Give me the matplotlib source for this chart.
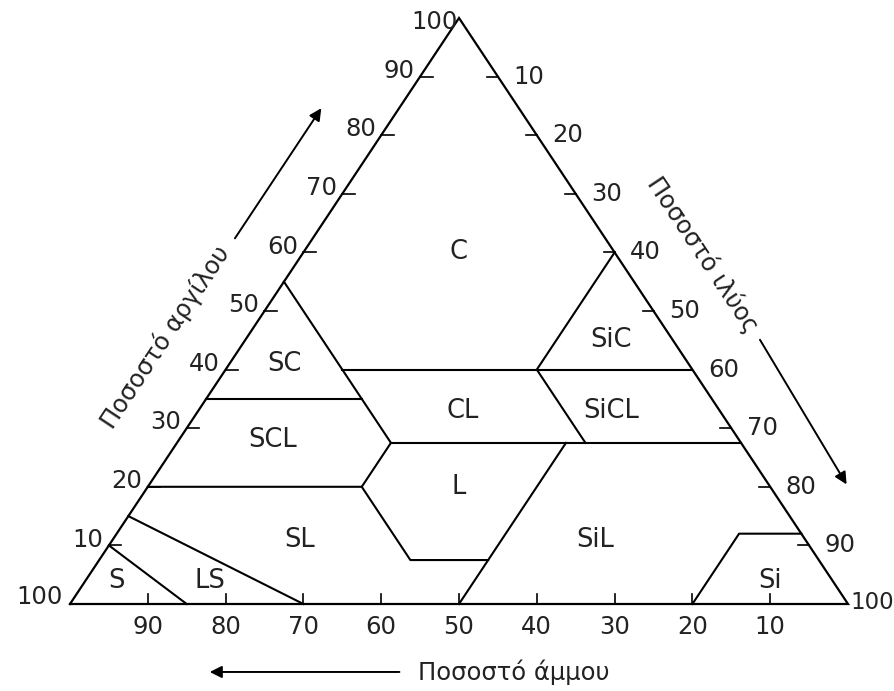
import math
import matplotlib.pyplot as plt

plt.rcParams['font.family'] = ['DejaVu Sans']

# tick values on each side of the triangle (percent)
clay_ticks = [10, 20, 30, 40, 50, 60, 70, 80, 90]
silt_ticks = [10, 20, 30, 40, 50, 60, 70, 80, 90]
sand_ticks = [90, 80, 70, 60, 50, 40, 30, 20, 10]

# texture class boundaries, polylines of (sand %, clay %)
boundaries = [
    [(45, 55), (45, 27.5)],
    [(65, 35), (45, 35)],
    [(45, 40), (0, 40)],
    [(0, 60), (20, 40), (20, 27.5)],
    [(45, 27.5), (0, 27.5)],
    [(80, 20), (52.5, 20), (45, 27.5)],
    [(52.5, 20), (52.5, 7.5), (42.5, 7.5)],
    [(50, 0), (22.5, 27.5)],
    [(85, 15), (70, 0)],
    [(90, 10), (85, 0)],
    [(20, 0), (8, 12), (0, 12)],
]

# class names and where their labels sit (sand %, clay %)
classes = ['C', 'SC', 'SCL', 'CL', 'SiC', 'SiCL', 'L', 'SL', 'SiL', 'S', 'LS', 'Si']
class_sand = [20, 52, 60, 33, 8, 14, 40, 65, 27, 92, 80, 8]
class_clay = [60, 41, 28, 33, 45, 33, 20, 11, 11, 4, 4, 4]


def tern(sand, clay):
    # ternary (sand, clay) -> plane x, y ; x runs from sand=100 (left) to silt=100 (right)
    return 100 - sand - clay / 2, clay


fig = plt.figure(figsize=(8.95, 6.91), dpi=100)
ax = fig.add_axes([70 / 895, 87 / 691, 778 / 895, 586 / 691])
ax.set_xlim(0, 100)
ax.set_ylim(0, 100)
ax.axis('off')

txt = '#222222'
fs = 17.5

# outer triangle
corners = [tern(100, 0), tern(0, 0), tern(0, 100), tern(100, 0)]
ax.plot([p[0] for p in corners], [p[1] for p in corners], color='black', lw=1.6,
        clip_on=False, solid_joinstyle='miter')

for line in boundaries:
    pts = [tern(s, c) for s, c in line]
    ax.plot([p[0] for p in pts], [p[1] for p in pts], color='black', lw=1.5, clip_on=False)

for name, s, c in zip(classes, class_sand, class_clay):
    x, y = tern(s, c)
    ax.text(x, y, name, ha='center', va='center', fontsize=18.5, color=txt)

# left side: clay
for c in clay_ticks:
    x, y = tern(100 - c, c)
    ax.plot([x, x + 1.6], [y, y], color='black', lw=1.2, clip_on=False)
    ax.text(x - 0.7, y + 1.0, str(c), ha='right', va='center', fontsize=fs, color=txt)

# right side: silt
for s in silt_ticks:
    x, y = tern(0, 100 - s)
    ax.plot([x, x - 1.4], [y, y], color='black', lw=1.2, clip_on=False)
    ax.text(x + 2.0, y, str(s), ha='left', va='center', fontsize=fs, color=txt)

# bottom: sand
for s in sand_ticks:
    x, y = tern(s, 0)
    ax.plot([x, x], [y, y + 1.7], color='black', lw=1.2, clip_on=False)
    ax.text(x, y - 4.0, str(s), ha='center', va='center', fontsize=fs, color=txt)

ax.text(-0.9, 1.2, '100', ha='right', va='center', fontsize=fs, color=txt)
ax.text(100.25, 0.2, '100', ha='left', va='center', fontsize=16.5, color=txt)
ax.text(49.8, 99.3, '100', ha='right', va='center', fontsize=fs, color=txt)

# axis titles with arrows
ang = math.degrees(math.atan2(100, 50))
arrow = dict(arrowstyle='-|>', color='black', lw=1.4, mutation_scale=18)

ax.text(12.3, 45.5, 'Ποσοστό αργίλου', rotation=ang, transform_rotates_text=True,
        rotation_mode='anchor', ha='center', va='center', fontsize=fs, color=txt)
ax.annotate('', xy=(32.5, 85), xytext=(21, 62), arrowprops=arrow, annotation_clip=False)

ax.text(81.4, 59.6, 'Ποσοστό ιλύος', rotation=-ang, transform_rotates_text=True,
        rotation_mode='anchor', ha='center', va='center', fontsize=fs, color=txt)
ax.annotate('', xy=(100, 20), xytext=(88.5, 45.5), arrowprops=arrow, annotation_clip=False)

ax.annotate('', xy=(17.6, -11.6), xytext=(42.7, -11.6), arrowprops=arrow, annotation_clip=False)
ax.text(44.7, -11.6, 'Ποσοστό άμμου', ha='left', va='center', fontsize=fs, color=txt)

fig.savefig('out.png', dpi=100, facecolor='white')
